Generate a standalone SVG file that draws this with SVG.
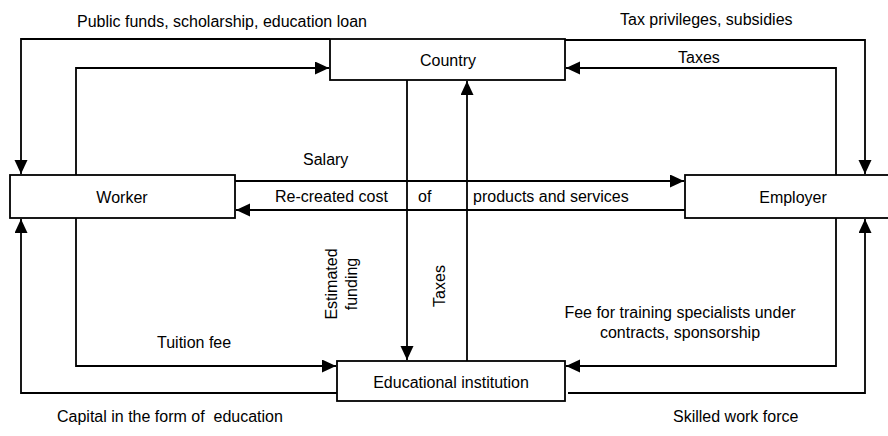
<svg xmlns="http://www.w3.org/2000/svg" width="888" height="436" viewBox="0 0 888 436">
<style>
.box{fill:#fff;stroke:#000;stroke-width:1.8}
.ln{fill:none;stroke:#000;stroke-width:1.8}
.arr{marker-end:url(#ah)}
text{font-family:"Liberation Sans",Arial,sans-serif;font-size:16px;fill:#000}
.c{text-anchor:middle}
</style>
<defs>
<marker id="ah" markerUnits="userSpaceOnUse" markerWidth="15" markerHeight="14" refX="14" refY="6.5" orient="auto">
<path d="M0,0 L14,6.5 L0,13 z" fill="#000"/>
</marker>
</defs>
<rect width="888" height="436" fill="#fff"/>
<g id="connectors">
<path class="ln arr" d="M330,39 H21 V174"/>
<path class="ln arr" d="M76,175 V68 H329"/>
<path class="ln arr" d="M565,40 H865 V174"/>
<path class="ln arr" d="M836,175 V68 H566"/>
<path class="ln arr" d="M235,181 H684"/>
<path class="ln arr" d="M685,210 H236"/>
<path class="ln arr" d="M407,80 V360"/>
<path class="ln arr" d="M467,361 V81"/>
<path class="ln arr" d="M76,218 V366 H336"/>
<path class="ln arr" d="M337,393 H21 V219"/>
<path class="ln arr" d="M836,218 V366 H566"/>
<path class="ln arr" d="M568,393 H865 V219"/>
</g>
<g id="country">
<rect class="box" x="330" y="39" width="235" height="41"/>
<text class="c" x="448" y="66">Country</text>
</g>
<g id="worker">
<rect class="box" x="10" y="175" width="225" height="43"/>
<text class="c" x="122" y="203">Worker</text>
</g>
<g id="employer">
<rect class="box" x="685" y="175" width="215" height="43"/>
<text class="c" x="793" y="203">Employer</text>
</g>
<g id="education">
<rect class="box" x="337" y="361" width="228" height="40"/>
<text class="c" x="451" y="388">Educational institution</text>
</g>
<g id="labels">
<text x="77" y="27">Public funds, scholarship, education loan</text>
<text x="620" y="25">Tax privileges, subsidies</text>
<text x="678" y="63">Taxes</text>
<text x="303" y="165">Salary</text>
<text x="275" y="202">Re-created cost</text>
<text x="418" y="202">of</text>
<text x="473" y="202">products and services</text>
<text class="c" transform="translate(337,284) rotate(-90)">Estimated</text>
<text class="c" transform="translate(357,284) rotate(-90)">funding</text>
<text class="c" transform="translate(445,286) rotate(-90)">Taxes</text>
<text x="157" y="348">Tuition fee</text>
<text class="c" x="680" y="318">Fee for training specialists under</text>
<text class="c" x="680" y="338">contracts, sponsorship</text>
<text x="57" y="422">Capital in the form of&#160; education</text>
<text x="673" y="422">Skilled work force</text>
</g>
</svg>
